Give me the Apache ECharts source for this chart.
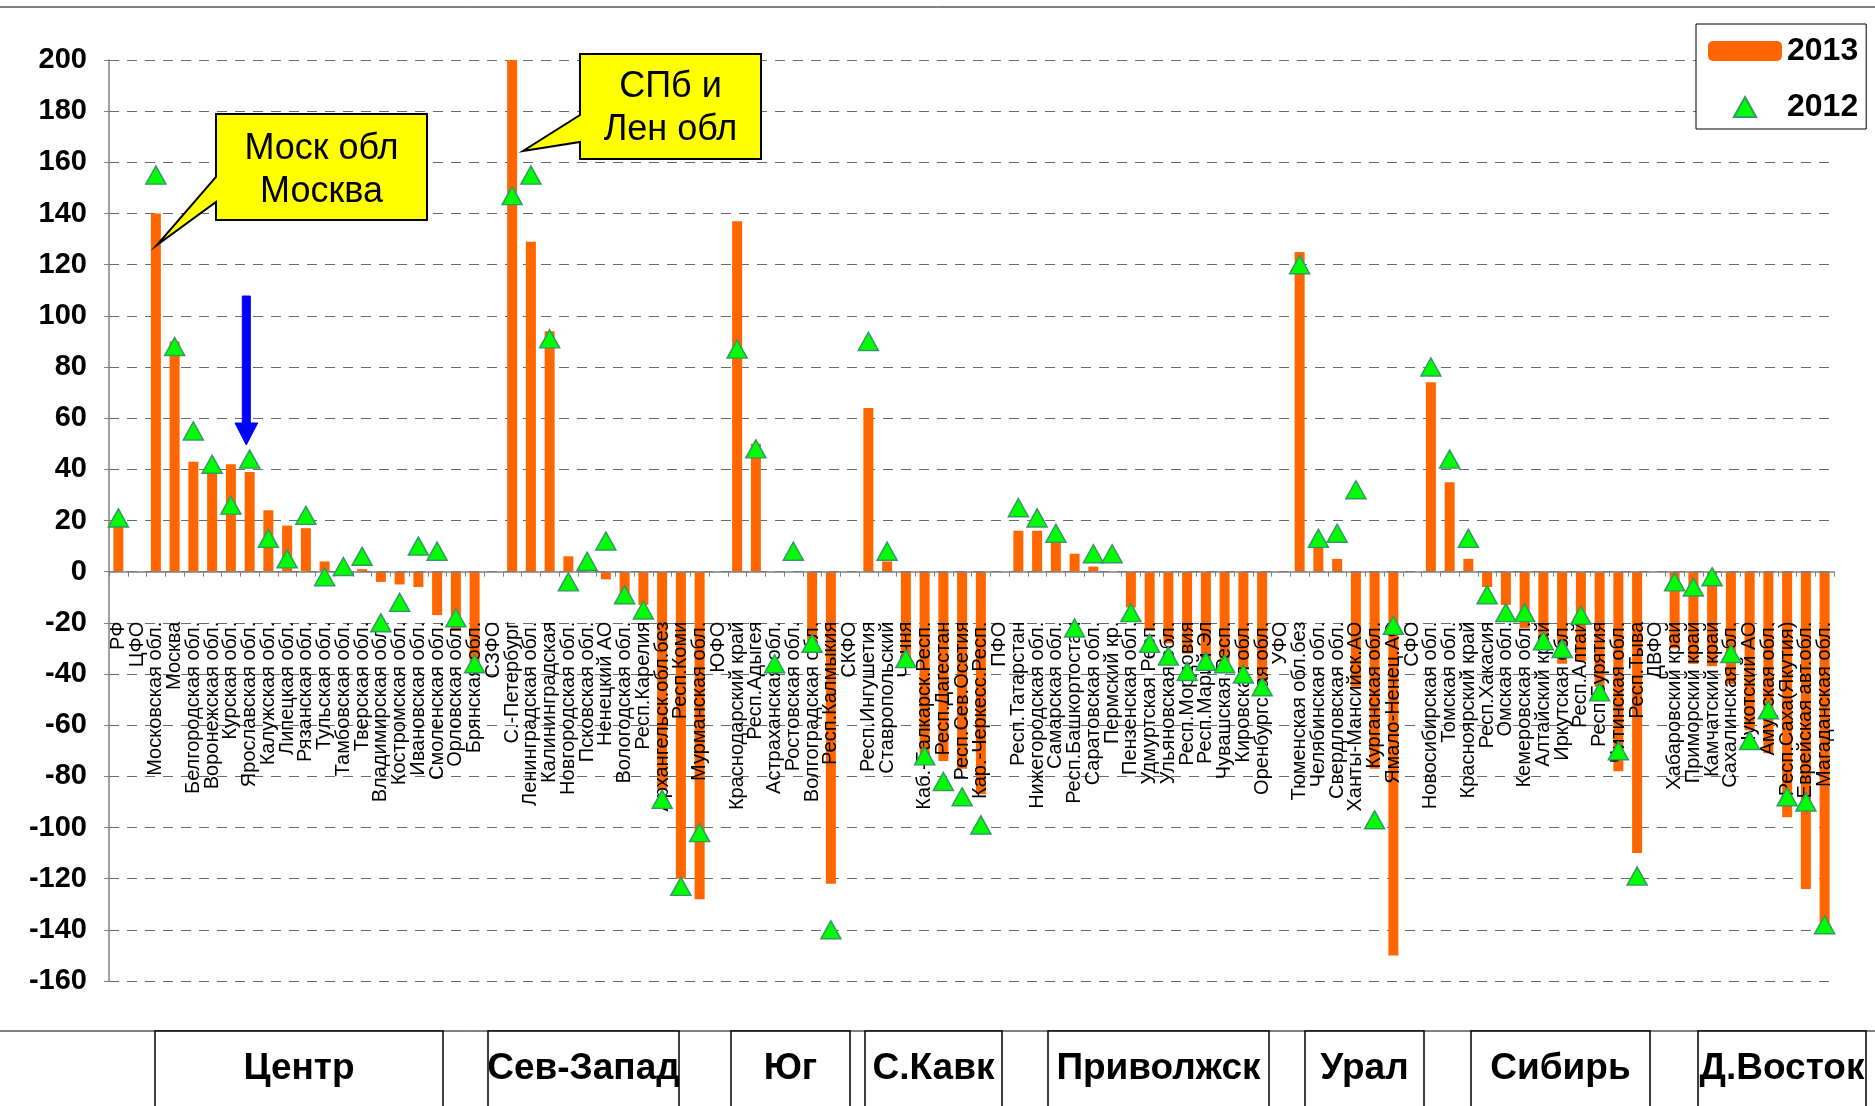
<!DOCTYPE html>
<html>
<head>
<meta charset="utf-8">
<script src="https://cdn.jsdelivr.net/npm/echarts@6.0.0/dist/echarts.min.js"></script>
<style>
  html, body { margin: 0; padding: 0; background: #fff; }
  #chart { width: 1875px; height: 1106px; }
</style>
</head>
<body>
<div id="chart"></div>
<script>
'use strict'

const categories = [
  'РФ', 'ЦФО', 'Московская обл.', 'Москва', 'Белгородская обл.', 'Воронежская обл.', 'Курская обл.',
  'Ярославская обл.', 'Калужская обл.', 'Липецкая обл.', 'Рязанская обл.', 'Тульская обл.', 'Тамбовская обл.',
  'Тверская обл.', 'Владимирская обл.', 'Костромская обл.', 'Ивановская обл.', 'Смоленская обл.', 'Орловская обл.',
  'Брянская обл.', 'СЗФО', 'С.-Петербург', 'Ленинградская обл.', 'Калининградская', 'Новгородская обл.',
  'Псковская обл.', 'Ненецкий АО', 'Вологодская обл.', 'Респ.Карелия', 'Архангельск.обл.без', 'Респ.Коми',
  'Мурманская обл.', 'ЮФО', 'Краснодарский край', 'Респ.Адыгея', 'Астраханская обл.', 'Ростовская обл.',
  'Волгоградская обл.', 'Респ.Калмыкия', 'СКФО', 'Респ.Ингушетия', 'Ставропольский', 'Чечня',
  'Каб.-Балкарск.Респ.', 'Респ.Дагестан', 'Респ.Сев.Осетия', 'Кар.-Черкесс.Респ.', 'ПФО', 'Респ.Татарстан',
  'Нижегородская обл.', 'Самарская обл.', 'Респ.Башкортостан', 'Саратовская обл.', 'Пермский кр.',
  'Пензенская обл.', 'Удмуртская Респ.', 'Ульяновская обл.', 'Респ.Мордовия', 'Респ.Марий Эл',
  'Чувашская Респ.', 'Кировская обл.', 'Оренбургская обл.', 'УФО', 'Тюменская обл.без', 'Челябинская обл.',
  'Свердловская обл.', 'Ханты-Мансийск.АО', 'Курганская обл.', 'Ямало-Ненец.АО', 'СФО', 'Новосибирская обл.',
  'Томская обл.', 'Красноярский край', 'Респ.Хакасия', 'Омская обл.', 'Кемеровская обл.', 'Алтайский край',
  'Иркутская обл.', 'Респ.Алтай', 'Респ.Бурятия', 'Читинская обл.', 'Респ.Тыва', 'ДВФО', 'Хабаровский край',
  'Приморский край', 'Камчатский край', 'Сахалинская обл.', 'Чукотский АО', 'Амурская обл.',
  'Респ.Саха(Якутия)', 'Еврейская авт.обл.', 'Магаданская обл.'
]

// 2013 — столбцы
const values2013 = [
  18, null, 140, 90, 43, 40, 42, 39, 24, 18, 17, 4, 1, 1, -4, -5, -6, -17, -23, -38,
  null, 200, 129, 94, 6, 0, -3, -11, -13, -85, -120, -128,
  null, 137, 50, 0, 0, -30, -122,
  null, 64, 4, -36, -71, -74, -77, -87,
  null, 16, 16, 12, 7, 2, 0, -14, -23, -28, -32, -38, -38, -38, -43,
  null, 125, 10, 5, -45, -77, -150,
  null, 74, 35, 5, -6, -13, -22, -28, -36, -35, -45, -78, -110,
  null, -30, -36, -37, -44, -62, -71, -96, -124, -139
]

// 2012 — треугольники
const values2012 = [
  21, null, 155, 88, 55, 42, 26, 44, 13, 5, 22, -2, 2, 6, -20, -12, 10, 8, -18, -36,
  null, 147, 155, 91, -4, 4, 12, -9, -15, -89, -123, -102,
  null, 87, 48, -36, 8, -28, -140,
  null, 90, 8, -34, -72, -82, -88, -99,
  null, 25, 21, 15, -22, 7, 7, -16, -28, -33, -39, -35, -36, -40, -45,
  null, 120, 13, 15, 32, -97, -21,
  null, 80, 44, 13, -9, -16, -16, -27, -30, -17, -47, -70, -119,
  null, -4, -6, -2, -32, -66, -54, -88, -90, -138
]

const regionNames = ['Центр', 'Сев-Запад', 'Юг', 'С.Кавк', 'Приволжск', 'Урал', 'Сибирь', 'Д.Восток']
// x-пределы рамок округов внизу (px)
const regionBoxes = [[155, 443], [488, 679], [731, 850], [865, 1002], [1048, 1269], [1305, 1424], [1471, 1650], [1698, 1866]]

const FONT = '"Liberation Sans", Arial, sans-serif'
const Y_MIN = -160
const Y_MAX = 200
const GRID_TOP = 60
const GRID_BOTTOM = 125
const plotH = 1106 - GRID_TOP - GRID_BOTTOM
// ось категорий ставим на нулевую линию через offset
const zeroOffset = -plotH * (0 - Y_MIN) / (Y_MAX - Y_MIN)

const chart = echarts.init(document.getElementById('chart'))

const graphics = [
  { type: 'line', shape: { x1: 0, y1: 7, x2: 1875, y2: 7 }, style: { stroke: '#000', lineWidth: 1 } },
  { type: 'line', shape: { x1: 0, y1: 1031, x2: 1875, y2: 1031 }, style: { stroke: '#000', lineWidth: 1 } }
]

regionNames.forEach((name, i) => {
  const [x1, x2] = regionBoxes[i]
  graphics.push({
    type: 'rect',
    shape: { x: x1, y: 1031, width: x2 - x1, height: 100 },
    style: { fill: '#fff', stroke: '#000', lineWidth: 1.5 }
  })
  graphics.push({
    type: 'text',
    x: (x1 + x2) / 2,
    y: 1069,
    style: { text: name, font: 'bold 37px ' + FONT, fill: '#000', align: 'center', verticalAlign: 'middle' }
  })
})

// выноски
function callout (points, lines, cx, ys) {
  graphics.push({
    type: 'polygon',
    z: 20,
    shape: { points },
    style: { fill: '#FFFF00', stroke: '#000', lineWidth: 2 }
  })
  lines.forEach((t, i) => {
    graphics.push({
      type: 'text',
      z: 21,
      x: cx,
      y: ys[i],
      style: { text: t, font: '36px ' + FONT, fill: '#000', align: 'center', verticalAlign: 'middle' }
    })
  })
}

callout([[216, 114], [427, 114], [427, 220], [216, 220], [216, 202], [157, 245], [216, 177]],
  ['Моск обл', 'Москва'], 321.5, [149, 192])
callout([[580, 54], [761, 54], [761, 159], [580, 159], [580, 142], [523, 151], [580, 115]],
  ['СПб и', 'Лен обл'], 670.5, [87, 130])

// синяя стрелка
graphics.push({
  type: 'polygon',
  z: 20,
  shape: { points: [[242.3, 296], [250.3, 296], [250.3, 423], [257.7, 423], [246.3, 445], [235, 423], [242.3, 423]] },
  style: { fill: '#0000FF', stroke: '#0000FF', lineWidth: 1 }
})

const option = {
  animation: false,
  backgroundColor: '#fff',
  textStyle: { fontFamily: FONT },
  grid: {
    left: 109,
    right: 41,
    top: GRID_TOP,
    bottom: GRID_BOTTOM,
    containLabel: false,
    outerBoundsMode: 'none'
  },
  legend: {
    orient: 'vertical',
    left: 1696,
    top: 24,
    width: 172,
    padding: [11, 8, 6, 12],
    itemGap: 24,
    itemWidth: 74,
    itemHeight: 20,
    symbolKeepAspect: true,
    borderColor: '#000',
    borderWidth: 1,
    backgroundColor: '#fff',
    textStyle: { fontFamily: FONT, fontSize: 32, fontWeight: 'bold', color: '#000' },
    data: [
      { name: '2013' },
      { name: '2012', icon: 'path://M10,0 L20,18 L0,18 Z' }
    ]
  },
  xAxis: {
    type: 'category',
    data: categories,
    z: 3,
    position: 'bottom',
    offset: zeroOffset,
    axisLine: { onZero: false, lineStyle: { color: '#808080', width: 1.5 } },
    axisTick: { show: true, interval: 0, length: 5, lineStyle: { color: '#808080' } },
    axisLabel: {
      interval: 0,
      rotate: 90,
      margin: 50,
      fontFamily: FONT,
      fontSize: 20,
      color: '#000'
    },
    splitLine: { show: false }
  },
  yAxis: {
    type: 'value',
    min: Y_MIN,
    max: Y_MAX,
    interval: 20,
    axisLine: { show: true, lineStyle: { color: '#808080', width: 1.5 } },
    axisTick: { show: true, length: 5, lineStyle: { color: '#808080' } },
    axisLabel: { fontFamily: FONT, fontSize: 29, fontWeight: 'bold', color: '#000', margin: 22 },
    splitLine: { show: true, lineStyle: { color: '#6a6a6a', width: 1, type: [10, 8] } }
  },
  series: [
    {
      name: '2013',
      type: 'bar',
      data: values2013,
      barWidth: 10,
      z: 2,
      itemStyle: { color: '#FF6600' }
    },
    {
      name: '2012',
      type: 'scatter',
      data: values2012,
      symbol: 'triangle',
      symbolSize: [20, 18],
      z: 5,
      itemStyle: { color: '#00FF00', borderColor: '#339966', borderWidth: 1.5, opacity: 1 }
    }
  ],
  graphic: graphics
}

chart.setOption(option)
</script>
</body>
</html>
